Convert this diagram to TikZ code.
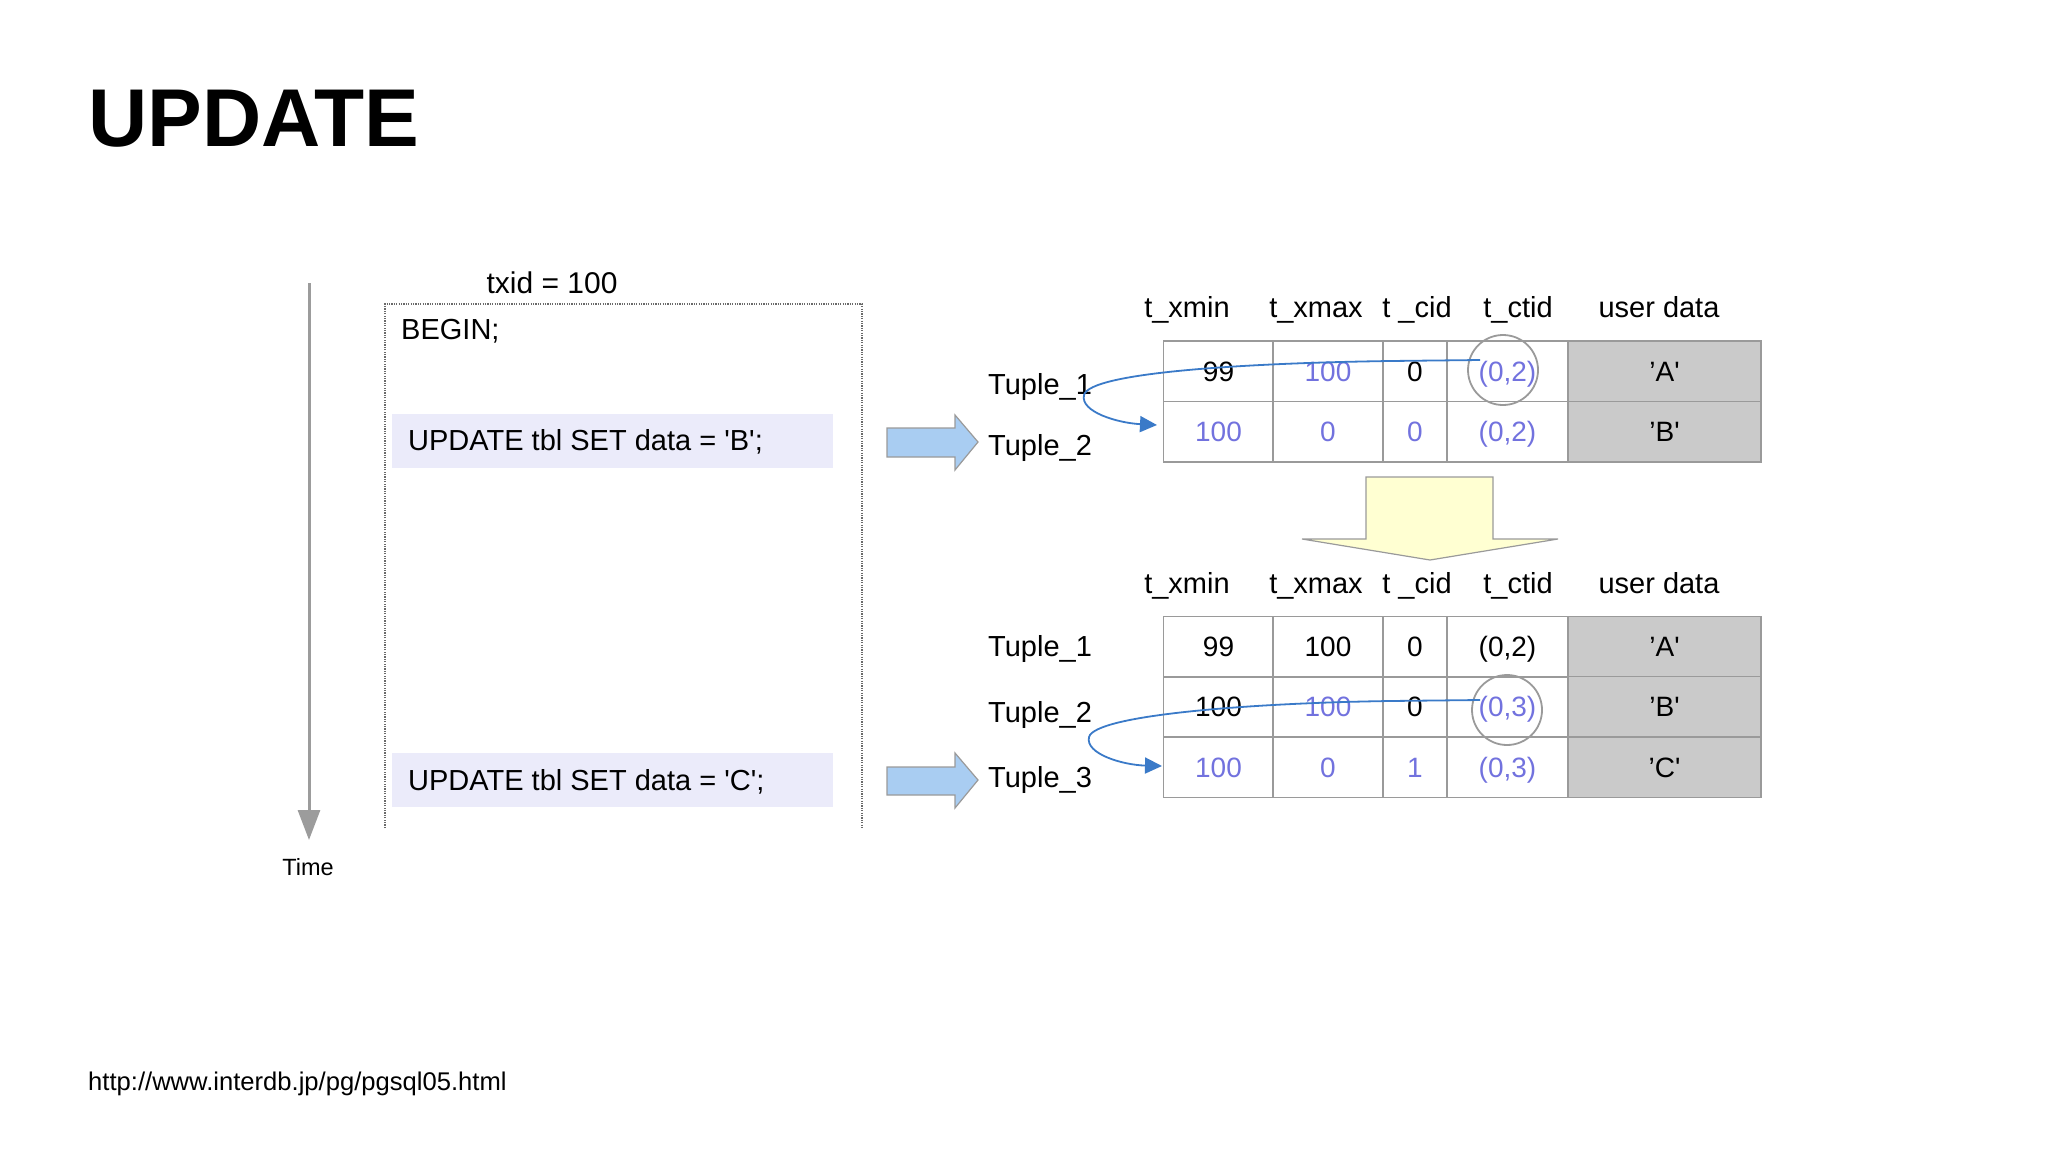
\documentclass[tikz,border=0pt]{standalone}
\usepackage{fontspec}
\setmainfont{Liberation Sans}
\usetikzlibrary{arrows.meta}
\definecolor{pv}{HTML}{7272DE}
\definecolor{gridc}{HTML}{9A9A9A}
\definecolor{udfill}{HTML}{CACACA}
\definecolor{hl}{HTML}{EBEBFA}
\definecolor{bluearr}{HTML}{A9CDF2}
\definecolor{yell}{HTML}{FFFFD2}
\definecolor{conn}{HTML}{3A7AC8}
\definecolor{timec}{HTML}{9C9C9C}
\definecolor{dotc}{HTML}{6A6A6A}
\newcommand{\sq}{\textquotesingle}
\begin{document}
\begin{tikzpicture}[x=1pt,y=-1pt,
  cell/.style={draw=gridc, line width=1.5pt, inner sep=0pt, text height=20pt, text depth=0pt,
    minimum height=60.5pt, font=\fontsize{28}{34}\selectfont},
  cA/.style={cell, minimum width=110pt},
  cB/.style={cell, minimum width=110pt},
  cC/.style={cell, minimum width=64pt},
  cD/.style={cell, minimum width=121pt},
  cE/.style={cell, minimum width=193pt, fill=udfill},
  hdr/.style={anchor=base, inner sep=0pt, font=\fontsize{29}{34}\selectfont},
  tup/.style={anchor=base west, inner sep=0pt, font=\fontsize{29}{34}\selectfont},
  sql/.style={anchor=base west, inner sep=0pt, font=\fontsize{29}{34}\selectfont},
  bigarr/.style={fill=bluearr, draw=gridc, line width=1.2pt},
  ring/.style={circle, draw=gridc, line width=1.8pt, minimum size=70pt, inner sep=0pt},
  link/.style={draw=conn, line width=1.8pt, -{Triangle[length=17pt,width=16pt]}},
]
\useasboundingbox (0,0) rectangle (2048,1152);

% title
\node[anchor=base west, inner sep=0pt, font=\fontsize{82}{96}\selectfont\bfseries] (title) at (88,146) {UPDATE};

% time axis
\node[anchor=base, inner sep=0pt, font=\fontsize{23.5}{28}\selectfont] (time) at (308,875) {Time};
\coordinate (tstart) at (309,283);
\coordinate (tend) at (309,840);
\draw[timec, line width=3pt, -{Triangle[length=30pt,width=22pt]}] (tstart) -- (tend);

% transaction box
\node[anchor=base, inner sep=0pt, font=\fontsize{30}{34}\selectfont] (txid) at (552,293) {txid = 100};
\draw[dotc, line width=1.5pt, dash pattern=on 1.2pt off 1.2pt] (385,828) -- (385,304) -- (862,304) -- (862,828);
\node[sql] (begin) at (401,339) {BEGIN;};
\fill[hl] (392,414) rectangle (833,468);
\node[sql] (upd1) at (408,450) {UPDATE tbl SET data = \sq B\sq;};
\fill[hl] (392,753) rectangle (833,807);
\node[sql] (upd2) at (408,790) {UPDATE tbl SET data = \sq C\sq;};

% blue arrows
\draw[bigarr] (887,428) -- (955,428) -- (955,415) -- (978,442) -- (955,470) -- (955,457) -- (887,457) -- cycle;
\draw[bigarr] (887,767) -- (955,767) -- (955,753) -- (978,780) -- (955,808) -- (955,795) -- (887,795) -- cycle;

% top table headers
\node[hdr] (h1a) at (1187,317) {t\_xmin};
\node[hdr] (h1b) at (1316,317) {t\_xmax};
\node[hdr] (h1c) at (1417,317) {t \_cid};
\node[hdr] (h1d) at (1518,317) {t\_ctid};
\node[hdr] (h1e) at (1659,317) {user data};

\node[tup] (t1a) at (988,394) {Tuple\_1};
\node[tup] (t1b) at (988,455) {Tuple\_2};

% top table
\node[cA] (a11) at (1218.5,371) {99};
\node[cB, text=pv] (a12) at (1328,371) {100};
\node[cC] (a13) at (1415,371) {0};
\node[cD, text=pv] (a14) at (1507.5,371) {(0,2)};
\node[cE] (a15) at (1664.5,371) {’A\sq};
\node[cA, text=pv] (a21) at (1218.5,431.5) {100};
\node[cB, text=pv] (a22) at (1328,431.5) {0};
\node[cC, text=pv] (a23) at (1415,431.5) {0};
\node[cD, text=pv] (a24) at (1507.5,431.5) {(0,2)};
\node[cE] (a25) at (1664.5,431.5) {’B\sq};

\node[ring] (ring1) at (1503,370) {};
\coordinate (s1) at (1480,360);
\coordinate (e1) at (1157,425);
\draw[link] (s1) -- (1390,361) .. controls (1250,363) and (1090,372) .. (1084,395)
  .. controls (1080,412) and (1118,423) .. (e1);

% yellow arrow
\draw[fill=yell, draw=gridc, line width=1.2pt] (1366,477) -- (1493,477) -- (1493,539) -- (1558,539) -- (1430,560) -- (1302,539) -- (1366,539) -- cycle;

% bottom table headers
\node[hdr] (h2a) at (1187,593) {t\_xmin};
\node[hdr] (h2b) at (1316,593) {t\_xmax};
\node[hdr] (h2c) at (1417,593) {t \_cid};
\node[hdr] (h2d) at (1518,593) {t\_ctid};
\node[hdr] (h2e) at (1659,593) {user data};

\node[tup] (t2a) at (988,656) {Tuple\_1};
\node[tup] (t2b) at (988,722) {Tuple\_2};
\node[tup] (t2c) at (988,787) {Tuple\_3};

% bottom table
\node[cA] (b11) at (1218.5,646.5) {99};
\node[cB] (b12) at (1328,646.5) {100};
\node[cC] (b13) at (1415,646.5) {0};
\node[cD] (b14) at (1507.5,646.5) {(0,2)};
\node[cE] (b15) at (1664.5,646.5) {’A\sq};
\node[cA] (b21) at (1218.5,706.5) {100};
\node[cB, text=pv] (b22) at (1328,706.5) {100};
\node[cC] (b23) at (1415,706.5) {0};
\node[cD, text=pv] (b24) at (1507.5,706.5) {(0,3)};
\node[cE] (b25) at (1664.5,706.5) {’B\sq};
\node[cA, text=pv] (b31) at (1218.5,767) {100};
\node[cB, text=pv] (b32) at (1328,767) {0};
\node[cC, text=pv] (b33) at (1415,767) {1};
\node[cD, text=pv] (b34) at (1507.5,767) {(0,3)};
\node[cE] (b35) at (1664.5,767) {’C\sq};

\node[ring] (ring2) at (1507,710) {};
\coordinate (s2) at (1480,700);
\coordinate (e2) at (1162,766);
\draw[link] (s2) -- (1390,701) .. controls (1250,703) and (1095,715) .. (1089,737)
  .. controls (1085,754) and (1123,765) .. (e2);

% source
\node[anchor=base west, inner sep=0pt, font=\fontsize{25.6}{30}\selectfont] (url) at (88,1090) {http://www.interdb.jp/pg/pgsql05.html};
\end{tikzpicture}
\end{document}
